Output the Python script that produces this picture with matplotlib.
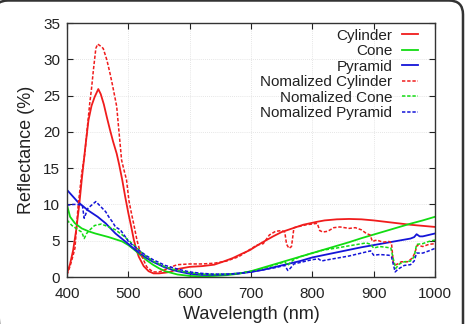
import matplotlib
matplotlib.use('Agg')
import matplotlib.pyplot as plt
from matplotlib.patches import FancyBboxPatch

# Reflectance curves (wavelength in nm, reflectance in %)
cyl_wl = [400, 405, 410, 415, 420, 424, 430, 435, 440, 445, 451, 455, 460, 465, 470, 475,
          481, 485, 490, 495, 500, 505, 509, 513, 517, 525, 533, 541, 550, 560, 568, 580,
          600, 620, 640, 654, 670, 685, 698, 715, 736, 750, 764, 785, 807, 820, 840, 860,
          880, 900, 920, 940, 960, 980, 1000]
cyl = [0.5, 1.8, 3.7, 6.5, 10.0, 13.4, 18.0, 21.6, 23.6, 24.8, 25.9, 25.2, 23.8, 22.0,
       20.3, 18.7, 17.0, 15.5, 13.4, 11.0, 8.8, 6.8, 5.1, 3.8, 2.8, 1.5, 0.8, 0.5, 0.5,
       0.6, 0.7, 1.1, 1.4, 1.5, 1.7, 2.1, 2.6, 3.2, 3.7, 4.6, 5.6, 6.2, 6.6, 7.2, 7.6,
       7.8, 7.95, 8.0, 7.95, 7.8, 7.6, 7.4, 7.2, 7.05, 6.9]

ncyl_wl = [400, 405, 410, 413, 418, 424, 429, 433, 437, 440, 443, 447, 450, 455, 459, 465,
           470, 474, 478, 481, 484, 489, 493, 497, 501, 505, 510, 514, 520, 530, 540, 550,
           560, 570, 580, 600, 620, 640, 660, 680, 700, 710, 720, 730, 740, 750, 755, 758,
           762, 766, 770, 780, 790, 800, 808, 812, 817, 825, 835, 845, 860, 870, 880, 888,
           894, 898, 905, 915, 925, 929, 932, 937, 945, 955, 963, 967, 971, 980, 990, 1000]
ncyl = [0.3, 1.5, 3.0, 4.0, 9.7, 14.3, 17.0, 20.5, 23.9, 26.0, 28.5, 31.5, 32.1, 31.8,
        31.5, 29.9, 28.1, 26.5, 24.8, 23.5, 20.7, 16.1, 14.7, 13.4, 10.5, 8.8, 6.8, 5.1,
        3.2, 1.4, 0.7, 0.7, 1.0, 1.4, 1.7, 1.8, 1.8, 1.9, 2.2, 2.8, 3.9, 4.4, 4.6, 5.8,
        6.3, 6.4, 6.2, 4.5, 3.95, 4.2, 6.8, 7.0, 7.2, 7.3, 7.4, 6.4, 6.2, 6.3, 6.8, 6.9,
        6.7, 6.8, 6.5, 6.0, 5.8, 4.9, 5.1, 4.8, 4.9, 4.7, 2.0, 1.7, 2.1, 2.1, 2.6, 3.3,
        4.4, 4.2, 4.5, 4.6]

cone_wl = [400, 405, 413, 424, 435, 446, 457, 468, 479, 490, 500, 512, 520, 530, 540, 550,
           560, 580, 600, 620, 640, 660, 680, 700, 720, 740, 760, 780, 800, 820, 840, 860,
           880, 900, 920, 940, 960, 980, 1000]
cone = [9.9, 8.3, 7.4, 6.7, 6.3, 6.0, 5.75, 5.5, 5.2, 4.9, 4.4, 3.6, 3.0, 2.3, 1.7, 1.2,
        0.8, 0.35, 0.15, 0.1, 0.15, 0.25, 0.45, 0.8, 1.3, 1.8, 2.3, 2.8, 3.3, 3.8, 4.3,
        4.8, 5.35, 5.85, 6.35, 6.85, 7.35, 7.8, 8.3]

pyr_wl = [400, 417, 434, 450, 463, 479, 495, 512, 520, 530, 540, 550, 560, 580, 600, 620,
          640, 660, 680, 700, 720, 740, 760, 780, 800, 820, 840, 860, 880, 900, 920, 940,
          960, 966, 970, 975, 980, 1000]
pyr = [12.0, 10.4, 9.2, 8.3, 7.4, 6.0, 4.9, 3.7, 3.2, 2.6, 2.1, 1.7, 1.3, 0.8, 0.45, 0.3,
       0.3, 0.35, 0.5, 0.7, 1.0, 1.4, 1.8, 2.2, 2.7, 3.05, 3.4, 3.75, 4.1, 4.4, 4.7, 5.0,
       5.3, 5.5, 5.9, 5.6, 5.6, 6.0]

ncone_wl = [400, 408, 418, 424, 428, 432, 436, 445, 456, 468, 479, 490, 500, 510, 520, 530,
            540, 560, 580, 600, 620, 640, 660, 680, 700, 720, 740, 755, 760, 764, 770, 780,
            800, 817, 840, 860, 888, 895, 900, 910, 920, 928, 932, 936, 942, 950, 960, 966,
            970, 980, 990, 1000]
ncone = [7.85, 7.1, 6.5, 6.2, 5.3, 6.0, 6.4, 7.1, 7.3, 6.9, 6.5, 5.8, 5.1, 4.3, 3.5, 2.8,
         2.2, 1.4, 0.9, 0.6, 0.4, 0.35, 0.4, 0.5, 0.8, 1.2, 1.7, 2.1, 1.6, 2.0, 2.4, 2.8,
         3.3, 3.7, 4.0, 4.3, 4.7, 4.5, 4.0, 4.2, 4.1, 4.0, 2.5, 1.2, 1.8, 2.1, 2.2, 2.8,
         4.5, 4.6, 4.9, 5.1]

npyr_wl = [400, 410, 417, 425, 428, 434, 440, 447, 455, 463, 468, 474, 479, 487, 495, 500,
           510, 520, 530, 540, 560, 580, 600, 620, 640, 660, 680, 700, 720, 740, 755, 760,
           764, 770, 780, 800, 810, 815, 820, 840, 860, 880, 895, 900, 910, 925, 929, 935,
           940, 950, 960, 966, 970, 980, 990, 1000]
npyr = [9.9, 10.0, 10.0, 9.9, 8.1, 9.45, 9.9, 10.4, 9.7, 9.0, 8.3, 7.6, 6.9, 6.5, 5.55,
        4.9, 4.2, 3.5, 2.9, 2.4, 1.6, 1.1, 0.7, 0.5, 0.4, 0.4, 0.5, 0.7, 1.0, 1.3, 1.6,
        0.9, 1.2, 1.8, 2.0, 2.4, 2.5, 2.2, 2.3, 2.6, 2.9, 3.3, 3.6, 3.0, 3.1, 3.0, 2.8,
        0.7, 1.1, 1.6, 1.7, 2.2, 3.3, 3.3, 3.6, 3.95]

RED = '#f01c1c'
GREEN = '#12dc12'
BLUE = '#1414d8'

plt.rcParams['font.family'] = 'Liberation Sans'

fig = plt.figure(figsize=(4.67, 3.24), dpi=100)
ax = fig.add_axes([0.1435, 0.145, 0.788, 0.784])

dash = (0, (2.2, 1.2))
ax.plot(cyl_wl, cyl, color=RED, lw=1.3, label='Cylinder')
ax.plot(cone_wl, cone, color=GREEN, lw=1.3, label='Cone')
ax.plot(pyr_wl, pyr, color=BLUE, lw=1.3, label='Pyramid')
ax.plot(ncyl_wl, ncyl, color=RED, lw=1.1, ls=dash, label='Nomalized Cylinder')
ax.plot(ncone_wl, ncone, color=GREEN, lw=1.1, ls=dash, label='Nomalized Cone')
ax.plot(npyr_wl, npyr, color=BLUE, lw=1.1, ls=dash, label='Nomalized Pyramid')

ax.set_xlim(400, 1000)
ax.set_ylim(0, 35)
ax.set_xticks(range(400, 1001, 100))
ax.set_yticks(range(0, 36, 5))
ax.tick_params(direction='in', length=4, width=0.8, top=True, right=True,
               labelsize=11, pad=5, colors='#222222')
ax.tick_params(axis='x', pad=7)
ax.grid(True, color='#dddddd', lw=0.6, ls=(0, (1, 1.5)))
for s in ax.spines.values():
    s.set_color('#333333')
    s.set_linewidth(1.0)

ax.set_xlabel('Wavelength (nm)', fontsize=13, color='#222222', labelpad=4)
ax.set_ylabel('Reflectance (%)', fontsize=13, color='#222222', labelpad=6)

leg = ax.legend(loc='upper right', bbox_to_anchor=(0.955, 0.978), frameon=False,
                fontsize=11, markerfirst=False, handlelength=1.1, handletextpad=0.6,
                labelspacing=0.1, borderpad=0, borderaxespad=0)
for t in leg.get_texts():
    t.set_ha('right')
    t.set_color('#222222')

# rounded frame around the whole figure (in inches)
frame = FancyBboxPatch((-0.06, -0.6), 4.69, 3.835, boxstyle='round,pad=0,rounding_size=0.14',
                       transform=fig.dpi_scale_trans, fill=False, ec='#333333', lw=1.8)
fig.patches.append(frame)

fig.savefig('out.png', dpi=100)
